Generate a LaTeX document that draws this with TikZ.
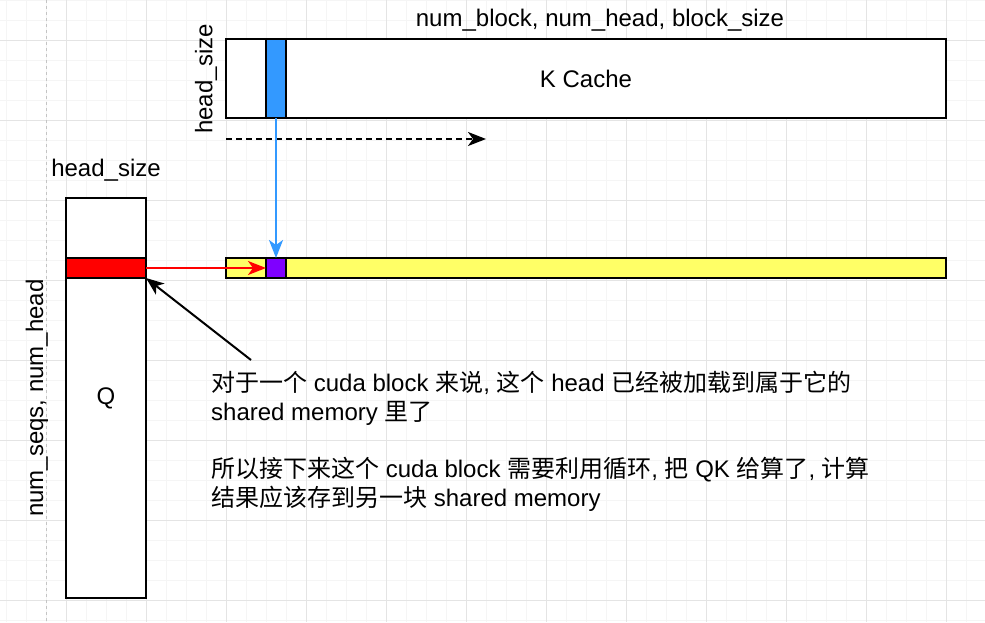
\documentclass[tikz,border=0pt]{standalone}
\usepackage{fontspec}
\setmainfont{Liberation Sans}
\newfontfamily\cjk{Noto Sans CJK SC}
\newcommand{\zh}[1]{{\cjk #1}}
\usepackage{tikz}
\usetikzlibrary{arrows.meta}
\definecolor{kblue}{HTML}{3399FF}
\definecolor{hlpurple}{HTML}{7F00FF}
\definecolor{baryellow}{HTML}{FFFF66}
\definecolor{minorgray}{HTML}{F5F5F5}
\definecolor{majorgray}{HTML}{E4E4E4}
\definecolor{breakgray}{HTML}{C4C4C4}

\begin{document}
\begin{tikzpicture}[x=1pt,y=-1pt,
  every node/.style={font=\fontsize{24}{28.8}\selectfont},
  box/.style={draw=black,line width=2pt,inner sep=0pt,outer sep=0pt,anchor=north west},
  tip/.style={-{Stealth[length=18pt,width=14pt,inset=5pt]},line width=2pt},
  minorline/.style={draw=minorgray,line width=1pt},
  majorline/.style={draw=majorgray,line width=1pt},
  pagebreak/.style={draw=breakgray,line width=1pt,dash pattern=on 3pt off 3pt}]
\useasboundingbox[fill=white] (0,0) rectangle (985,622);
\foreach \gx in {6,26,...,986} \draw[minorline] (\gx,0) -- (\gx,622);
\foreach \gy in {0,20,...,620} \draw[minorline] (0,\gy) -- (985,\gy);
\foreach \gx in {66,146,...,946} \draw[majorline] (\gx,0) -- (\gx,622);
\foreach \gy in {40,120,...,600} \draw[majorline] (0,\gy) -- (985,\gy);
\draw[pagebreak] (46,0) -- (46,622);

\node[box,fill=white,minimum width=720pt,minimum height=79pt] (kcache) at (226,39) {K Cache};
\node[box,fill=kblue,minimum width=20pt,minimum height=79pt] (kslice) at (266,39) {};
\node[box,fill=baryellow,minimum width=720pt,minimum height=20pt] (qkbar) at (226,258) {};
\node[box,fill=hlpurple,minimum width=20pt,minimum height=20pt] (qkcell) at (266,258) {};
\node[box,fill=white,minimum width=80pt,minimum height=400pt] (qmat) at (66,198) {Q};
\node[box,fill=red,minimum width=80pt,minimum height=20pt] (qrow) at (66,258) {};

\node (kdims) at (600,20) {num\_block, num\_head, block\_size};
\node[rotate=90] (kheadsize) at (206,79) {head\_size};
\node (qheadsize) at (106,170) {head\_size};
\node[rotate=90] (qdims) at (37,398) {num\_seqs, num\_head};

\coordinate (scanstart) at (226,139);
\coordinate (scanend) at (486,139);
\draw[tip,dash pattern=on 6pt off 4pt] (scanstart) -- (scanend);
\draw[tip,kblue] (kslice.south) -- (qkcell.north);
\draw[tip,red] (qrow.east) -- (qkcell.west);

\node[align=left,anchor=north west,inner sep=0pt] (note) at (211,371)
  {\zh{对于一个} cuda block \zh{来说}, \zh{这个} head \zh{已经被加载到属于它的}\\
   shared memory \zh{里了}\\[28.8pt]
   \zh{所以接下来这个} cuda block \zh{需要利用循环}, \zh{把} QK \zh{给算了}, \zh{计算}\\
   \zh{结果应该存到另一块} shared memory};
\coordinate (notetail) at (251,360);
\draw[tip] (notetail) -- (qrow.south east);
\end{tikzpicture}
\end{document}
